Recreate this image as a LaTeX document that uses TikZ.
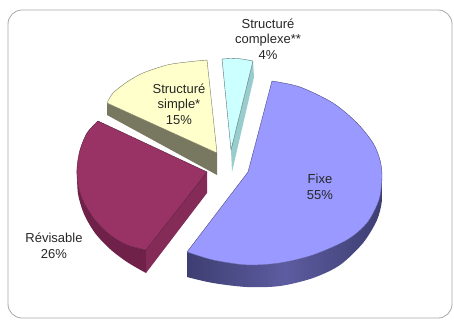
\documentclass[tikz,border=0pt]{standalone}
\usepackage{fontspec}
\setmainfont{Liberation Sans}
\definecolor{fixetop}{HTML}{9999FF}
\definecolor{fixeside}{HTML}{4B4B85}
\definecolor{fixesideL}{HTML}{3E3E72}
\definecolor{fixesideM}{HTML}{5C5CA0}
\definecolor{revtop}{HTML}{993366}
\definecolor{revside}{HTML}{6F2149}
\definecolor{revfront}{HTML}{842B58}
\definecolor{simtop}{HTML}{FFFFCC}
\definecolor{simside}{HTML}{787860}
\definecolor{cxtop}{HTML}{CCFFFF}
\definecolor{cxside}{HTML}{99CCCC}
\definecolor{frame}{HTML}{A8A8A8}
\begin{document}
\begin{tikzpicture}[x=1bp,y=-1bp,
  lbl/.style={font=\fontsize{13bp}{15.5bp}\selectfont, align=center, text=black!85, inner sep=0pt},
  edge/.style={line width=0.4bp, line join=round}]
\useasboundingbox (0,0) rectangle (454,320);
\draw[frame, line width=0.8bp, rounded corners=14bp] (8,10) rectangle (452,318);

% Revisable
\fill[revside] plot[smooth] coordinates {(77,168) (78,185) (84,203) (95,220) (110,235) (127,245) (146,250)} -- (146,273) -- plot[smooth] coordinates {(146,273) (127,262) (110,249) (95,233) (84,214) (78,194) (77,172)} -- cycle;
\fill[revfront] (207,172) -- (146,250) -- (146,273) -- (207,193) -- cycle;
\filldraw[fill=revtop, draw=revside!80!black, edge] (98,121) -- (207,172) -- (146,250) -- plot[smooth] coordinates {(146,250) (127,245) (110,235) (95,220) (84,203) (78,185) (77,168) (80,150) (87,133) (98,121)} -- cycle;

% Structure simple
\fill[simside] (107,103) -- (217,153) -- (217,175) -- (107,115) -- cycle;
\filldraw[fill=simtop, draw=simside, edge] (207,60) -- (217,153) -- (107,103) -- plot[smooth] coordinates {(107,103) (113,93) (127,82) (143,73) (167,65) (187,62) (207,60)} -- cycle;

% Structure complexe
\fill[cxside] (253,61) -- (254,77) -- (232,172) -- (231,150) -- cycle;
\filldraw[fill=cxtop, draw=cxside!55!black, edge] (222,59) .. controls (237,58) .. (253,61) -- (231,150) -- cycle;

% Fixe
\shade[left color=fixesideL, right color=fixesideL, middle color=fixesideM] plot[smooth] coordinates {(382,177) (379,200) (367,223) (347,240) (313,255) (280,263) (247,265) (213,260) (187,252)} -- (187,277) -- plot[smooth] coordinates {(187,277) (213,283) (247,287) (280,286) (313,278) (340,265) (363,243) (377,220) (382,200) (382,177)} -- cycle;
\filldraw[fill=fixetop, draw=fixeside, edge] (187,252) -- (248,172) -- (272,81) -- plot[smooth] coordinates {(272,81) (300,87) (333,103) (357,123) (373,143) (380,160) (382,177) (379,200) (367,223) (347,240) (313,255) (280,263) (247,265) (213,260) (187,252)} -- cycle;

% Labels
\node[lbl] (cx) at (268,39) {Structuré\\complexe**\\4\%};
\node[lbl] (sim) at (179,104) {Structuré\\simple*\\15\%};
\node[lbl] (fixe) at (320,187) {Fixe\\55\%};
\node[lbl] (rev) at (54,246) {Révisable\\26\%};
\end{tikzpicture}
\end{document}
